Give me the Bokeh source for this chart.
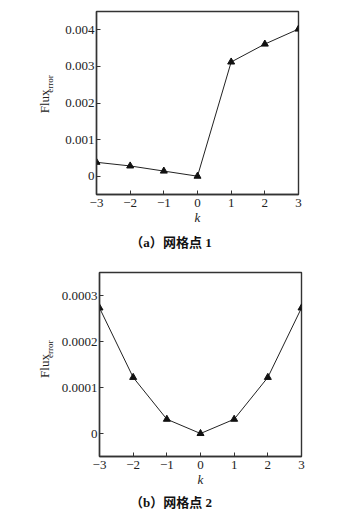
from bokeh.plotting import figure
from bokeh.models import Range1d, FixedTicker, Label
from bokeh.layouts import column, row
from bokeh.embed import file_html
from bokeh.resources import INLINE

# data
k = [-3, -2, -1, 0, 1, 2, 3]
flux_a = [0.00038, 0.00028, 0.00014, 0.0, 0.00312, 0.00361, 0.00402]
flux_b = [0.000273, 0.000122, 0.000031, 0.0, 0.000031, 0.000122, 0.000273]

x_ticks = [-3, -2, -1, 0, 1, 2, 3]
y_ticks_a = [0, 0.001, 0.002, 0.003, 0.004]
y_labels_a = ["0", "0.001", "0.002", "0.003", "0.004"]
y_ticks_b = [0, 0.0001, 0.0002, 0.0003]
y_labels_b = ["0", "0.0001", "0.0002", "0.0003"]
y_range_a = (-0.0005, 0.0045)
y_range_b = (-0.00005, 0.00035)
caption_a = "（a）网格点 1"
caption_b = "（b）网格点 2"
y_title = "Flux"
y_title_sub = "error"
x_title = "k"

SERIF = "Liberation Serif"
CJK = "Liberation Serif, Noto Sans CJK SC"
INK = "#222222"

LAB_W = 58
MAIN_LEFT = 38
FRAME_W = 202
RIGHT = 30
TOTAL_W = LAB_W + MAIN_LEFT + FRAME_W + RIGHT


def blank(width, height):
    f = figure(width=width, height=height, output_backend="svg",
               toolbar_location=None, x_range=Range1d(0, width),
               y_range=Range1d(0, height), x_axis_location=None,
               y_axis_location=None, min_border=0)
    f.min_border_left = f.min_border_right = 0
    f.min_border_top = f.min_border_bottom = 0
    f.outline_line_color = None
    f.xgrid.visible = False
    f.ygrid.visible = False
    return f


def make_main(yvals, yr, yticks, ylabels, top, fh, bottom):
    p = figure(frame_width=FRAME_W, frame_height=fh, output_backend="svg",
               toolbar_location=None, x_range=Range1d(-3, 3),
               y_range=Range1d(*yr), min_border_left=MAIN_LEFT,
               min_border_right=RIGHT, min_border_top=top,
               min_border_bottom=bottom)
    p.xgrid.visible = False
    p.ygrid.visible = False
    p.outline_line_color = "#333333"
    p.outline_line_width = 1.4
    for ax in (p.xaxis[0], p.yaxis[0]):
        ax.major_tick_in = 4
        ax.major_tick_out = 0
        ax.minor_tick_in = 0
        ax.minor_tick_out = 0
        ax.axis_line_color = "#333333"
        ax.axis_line_width = 1.4
        ax.major_tick_line_color = "#333333"
        ax.major_label_text_font = SERIF
        ax.major_label_text_font_size = "13px"
        ax.major_label_text_color = INK
    p.xaxis.major_label_standoff = 4
    p.yaxis.major_label_standoff = 2
    p.xaxis.ticker = FixedTicker(ticks=x_ticks)
    p.yaxis.ticker = FixedTicker(ticks=yticks)
    p.yaxis.major_label_overrides = {t: l for t, l in zip(yticks, ylabels)}
    p.xaxis.axis_label = x_title
    p.xaxis.axis_label_text_font = SERIF
    p.xaxis.axis_label_text_font_style = "italic"
    p.xaxis.axis_label_text_font_size = "13px"
    p.xaxis.axis_label_text_color = INK
    p.xaxis.axis_label_standoff = 0

    p.line(k, yvals, line_color=INK, line_width=1)
    p.scatter(k, yvals, marker="triangle", size=7, fill_color="#111111",
              line_color="#111111")
    return p


def make_ylab(height, top, fh):
    f = blank(LAB_W, height)
    cy = height - (top + fh / 2)  # frame centre, measured from bottom
    f.add_layout(Label(x=44, y=cy - 11.5, text=y_title, angle=1.5708,
                       text_align="center", text_baseline="middle",
                       text_font=SERIF, text_font_size="13px",
                       text_color=INK))
    f.add_layout(Label(x=49.3, y=cy + 10.5, text=y_title_sub, angle=1.5708,
                       text_align="center", text_baseline="middle",
                       text_font=SERIF, text_font_size="9px",
                       text_color=INK))
    return f


def make_caption(text, height, ymid):
    f = blank(TOTAL_W, height)
    f.add_layout(Label(x=170.5, y=height - ymid, text=text,
                       text_align="center", text_baseline="middle",
                       text_font=CJK, text_font_size="13px",
                       text_font_style="bold", text_color="#111111"))
    return f


# panel (a)
T1, FH1, B1 = 11, 183, 38
H1 = T1 + FH1 + B1
m1 = make_main(flux_a, y_range_a, y_ticks_a, y_labels_a, T1, FH1, B1)
l1 = make_ylab(H1, T1, FH1)
c1 = make_caption(caption_a, 21, 10)

# panel (b)
T2, FH2, B2 = 19, 184, 38
H2 = T2 + FH2 + B2
m2 = make_main(flux_b, y_range_b, y_ticks_b, y_labels_b, T2, FH2, B2)
l2 = make_ylab(H2, T2, FH2)
c2 = make_caption(caption_b, 18, 8)

layout = column(row(l1, m1), c1, row(l2, m2), c2)

open("out.html", "w").write(file_html(layout, INLINE))
